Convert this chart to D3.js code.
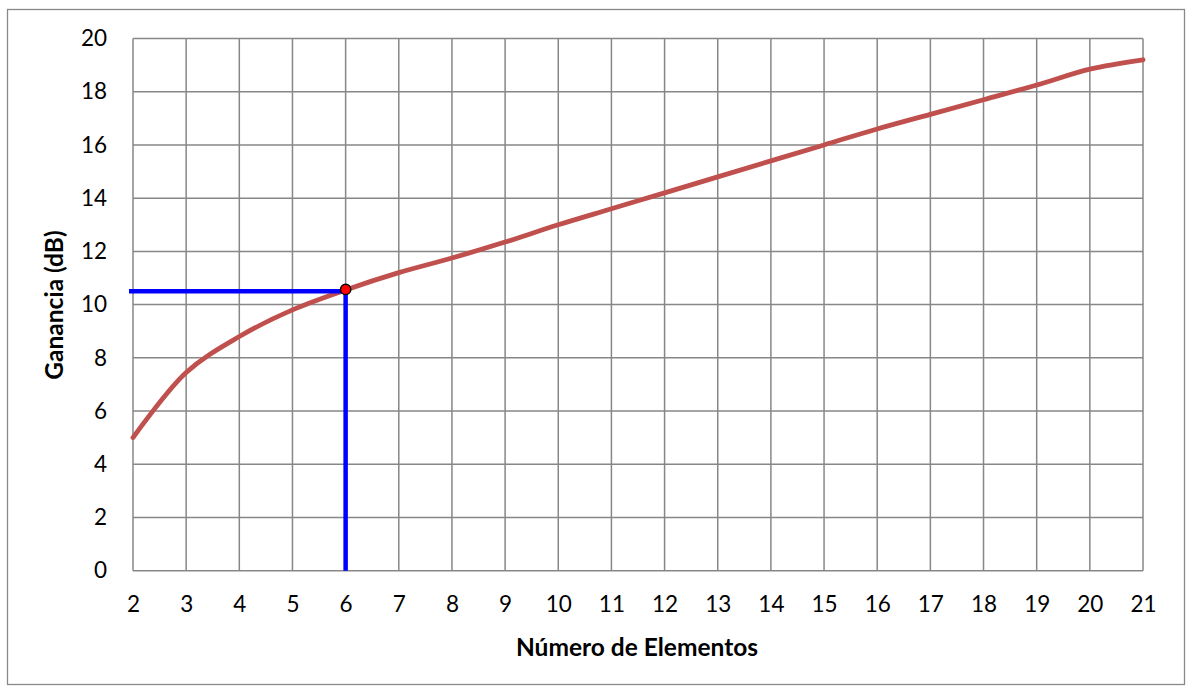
<!DOCTYPE html>
<html><head><meta charset="utf-8">
<script src="https://cdn.jsdelivr.net/npm/d3@7"></script>
<style>body{margin:0;background:#fff}svg{display:block}</style>
</head><body><svg id="c" width="1186" height="687"></svg>
<script>
const elementos = [2,3,4,5,6,7,8,9,10,11,12,13,14,15,16,17,18,19,20,21];
const ganancia = [5.0,7.45,8.8,9.8,10.55,11.2,11.75,12.35,13.0,13.6,14.2,14.8,15.4,16.0,16.6,17.15,17.7,18.25,18.85,19.2];
const yTicks = [0,2,4,6,8,10,12,14,16,18,20];
const markX = [6];
const markY = [10.5];
const markPointY = [10.57];
const xTitle = "Número de Elementos";
const yTitle = "Ganancia (dB)";

const svg = d3.select("#c");
const L=133, R=1143, T=38.5, B=570.7;
const x = d3.scaleLinear().domain([2,21]).range([L,R]);
const y = d3.scaleLinear().domain([0,20]).range([B,T]);
const font = "Lato, 'Open Sans', sans-serif";

svg.append("rect").attr("x",7.5).attr("y",9.5).attr("width",1177).attr("height",675)
  .attr("fill","#fff").attr("stroke","#888").attr("stroke-width",1.3);

const g = svg.append("g");
g.selectAll(".vg").data(elementos).enter().append("line")
  .attr("x1",d=>x(d)).attr("x2",d=>x(d)).attr("y1",T).attr("y2",B)
  .attr("stroke","#878787").attr("stroke-width",1.5);
g.selectAll(".hg").data(yTicks).enter().append("line")
  .attr("x1",L).attr("x2",R).attr("y1",d=>y(d)).attr("y2",d=>y(d))
  .attr("stroke","#878787").attr("stroke-width",1.5);

const xAxis = d3.axisBottom(x).tickValues(elementos).tickSize(0).tickPadding(25).tickFormat(d3.format("d"));
const xa = svg.append("g").attr("transform",`translate(0,${B})`).call(xAxis);
xa.select(".domain").remove();
xa.selectAll("text").attr("font-family",font).attr("font-size",22.5).attr("fill","#000");

const yAxis = d3.axisLeft(y).tickValues(yTicks).tickSize(0).tickPadding(26);
const ya = svg.append("g").attr("transform",`translate(${L},0)`).call(yAxis);
ya.select(".domain").remove();
ya.selectAll("text").attr("font-family",font).attr("font-size",22.5).attr("fill","#000");

const line = d3.line().x((d,i)=>x(elementos[i])).y(d=>y(d)).curve(d3.curveCatmullRom.alpha(0.5));
svg.append("path").datum(ganancia).attr("d",line).attr("fill","none")
  .attr("stroke","#C0504D").attr("stroke-width",4.8).attr("stroke-linecap","round");

svg.append("line").attr("x1",L-4).attr("x2",x(markX[0])).attr("y1",y(markY[0])).attr("y2",y(markY[0]))
  .attr("stroke","#0000FF").attr("stroke-width",4.5);
svg.append("line").attr("x1",x(markX[0])).attr("x2",x(markX[0])).attr("y1",y(markY[0])).attr("y2",y(0))
  .attr("stroke","#0000FF").attr("stroke-width",4.5);
svg.append("circle").attr("cx",x(markX[0])).attr("cy",y(markPointY[0])).attr("r",5.2)
  .attr("fill","#FF0000").attr("stroke","#000").attr("stroke-width",1.3);

svg.append("text").attr("x",637).attr("y",656).attr("text-anchor","middle")
  .attr("font-family",font).attr("font-size",24.5).attr("font-weight","bold").text(xTitle);
svg.append("text").attr("transform",`translate(63,305) rotate(-90)`).attr("text-anchor","middle")
  .attr("font-family",font).attr("font-size",24.5).attr("font-weight","bold").text(yTitle);
</script></body></html>
